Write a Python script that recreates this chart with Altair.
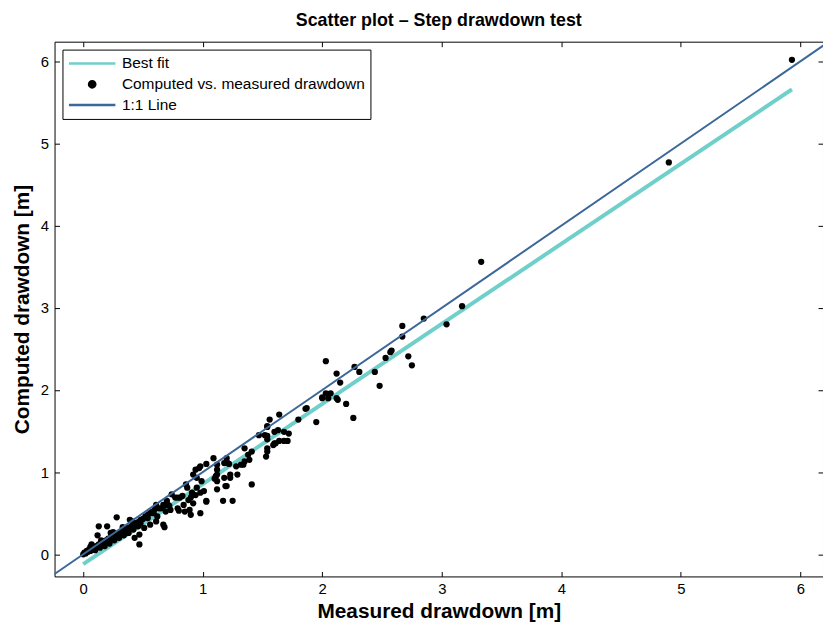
import altair as alt
import pandas as pd

# Measured vs computed drawdown [m]
measured = [
    0.00, 0.01, 0.02, 0.03, 0.04, 0.05, 0.06, 0.07, 0.08, 0.09, 0.10, 0.11, 0.12, 0.13, 0.14,
    0.15, 0.16, 0.17, 0.18, 0.19, 0.20, 0.21, 0.22, 0.23, 0.24, 0.25, 0.26, 0.27, 0.28, 0.29,
    0.30, 0.31, 0.32, 0.33, 0.34, 0.35, 0.36, 0.37, 0.38, 0.40, 0.42, 0.44, 0.46, 0.48, 0.50,
    0.52, 0.54, 0.56, 0.58, 0.60,
    0.06, 0.10, 0.14, 0.18, 0.22, 0.26, 0.30, 0.34, 0.38, 0.42, 0.46, 0.15, 0.25, 0.33, 0.41, 0.07,
    0.13, 0.20, 0.12, 0.28, 0.39, 0.47, 0.23, 0.34, 0.43, 0.48, 0.51, 0.47, 0.43,
    0.54, 0.59, 0.63, 0.67, 0.70, 0.74, 0.79, 0.83, 0.84, 0.88, 0.89, 0.79, 0.80, 0.73, 0.69,
    0.62, 0.67, 0.68, 0.61, 0.56, 0.91, 0.92, 0.94, 0.61, 0.68, 0.71, 0.85, 0.90, 0.98, 1.03,
    0.91, 0.94, 0.98, 0.95, 0.97, 0.98, 0.65, 0.72, 0.87, 0.86, 0.95, 0.92, 0.90, 0.77, 0.81,
    1.09, 1.12, 1.11, 1.12, 1.12, 1.17, 1.25, 1.20, 1.21, 1.23, 1.20, 1.29, 1.41, 1.01, 1.03,
    1.03, 1.12, 1.10, 1.35, 1.41, 1.39, 1.34, 1.28, 1.32, 1.35, 1.38, 1.47, 1.52, 1.54, 1.54,
    1.54, 1.54, 1.53, 1.56, 1.64, 1.60, 1.63, 1.68, 1.72, 1.61, 1.59, 1.64, 1.68, 1.71, 1.22,
    1.18, 1.23, 1.12, 0.99, 1.18, 1.19, 1.54, 1.54, 1.60,
    1.80, 1.86, 1.87, 1.95, 2.26, 2.00, 2.05, 2.12, 2.13, 2.20, 2.03, 2.07, 2.00, 2.15, 2.12,
    2.03, 2.27, 2.31, 2.44, 2.48, 2.53, 2.57, 2.58, 2.67, 2.67, 2.72, 2.75, 2.85, 3.04, 3.17,
    3.33, 4.90, 5.93,
]
computed = [
    0.00, 0.02, 0.01, 0.04, 0.03, 0.06, 0.04, 0.07, 0.06, 0.09, 0.08, 0.10, 0.10, 0.12, 0.11,
    0.14, 0.13, 0.15, 0.14, 0.17, 0.16, 0.19, 0.18, 0.20, 0.19, 0.22, 0.21, 0.24, 0.23, 0.25,
    0.24, 0.27, 0.26, 0.29, 0.27, 0.30, 0.29, 0.32, 0.31, 0.34, 0.35, 0.38, 0.39, 0.42, 0.43,
    0.46, 0.48, 0.50, 0.52, 0.55,
    0.09, 0.05, 0.08, 0.10, 0.13, 0.17, 0.20, 0.23, 0.26, 0.30, 0.34, 0.17, 0.27, 0.33, 0.40, 0.12,
    0.34, 0.34, 0.23, 0.45, 0.42, 0.12, 0.26, 0.28, 0.34, 0.38, 0.32, 0.24, 0.20,
    0.44, 0.50, 0.56, 0.60, 0.65, 0.73, 0.69, 0.71, 0.60, 0.66, 0.54, 0.56, 0.53, 0.54, 0.52,
    0.46, 0.36, 0.33, 0.40, 0.36, 0.72, 0.97, 1.03, 0.60, 0.59, 0.60, 0.52, 0.48, 0.50, 0.64,
    0.75, 0.72, 0.75, 0.93, 1.05, 1.07, 0.56, 0.59, 0.81, 0.85, 0.81, 0.62, 0.69, 0.69, 0.69,
    1.17, 1.09, 0.95, 0.89, 0.79, 0.65, 0.65, 1.17, 1.11, 0.93, 0.83, 0.97, 0.85, 0.77, 0.65,
    1.10, 1.03, 0.92, 1.29, 1.25, 1.15, 1.09, 1.07, 1.09, 1.13, 1.21, 1.45, 1.45, 1.55, 1.40,
    1.29, 1.25, 1.19, 1.64, 1.70, 1.49, 1.51, 1.49, 1.47, 1.35, 1.33, 1.38, 1.38, 1.38, 1.10,
    1.11, 0.97, 0.97, 0.89, 0.93, 0.83, 1.56, 1.44, 1.35,
    1.64, 1.77, 1.78, 1.61, 1.66, 1.90, 1.90, 1.90, 1.88, 1.83, 1.96, 1.96, 1.91, 2.09, 2.20,
    2.35, 2.28, 2.22, 2.22, 2.05, 2.39, 2.46, 2.48, 2.65, 2.78, 2.41, 2.30, 2.87, 2.80, 3.02,
    3.56, 4.77, 6.02,
]

fit_x = [0.00, 5.93]
fit_y = [-0.12, 5.66]
one_x = [-0.3, 6.3]
one_y = [-0.3, 6.3]

series = ["Best fit", "Computed vs. measured drawdown", "1:1 Line"]
series_colors = ["#6fcfcb", "#000000", "#3b6899"]
series_shapes = ["stroke", "circle", "stroke"]
series_sizes = [2200, 40, 2200]
ticks = [0, 1, 2, 3, 4, 5, 6]
x_dom = [-0.24, 6.19]
y_dom = [-0.27, 6.24]

FONT = "Liberation Sans"
INWARD = alt.ExprRef(expr="-5")

pts = pd.DataFrame({"x": measured, "y": computed, "s": series[1]})
fit = pd.DataFrame({"x": fit_x, "y": fit_y, "s": series[0]})
one = pd.DataFrame({"x": one_x, "y": one_y, "s": series[2]})

xs = alt.Scale(domain=x_dom, nice=False, zero=False)
ys = alt.Scale(domain=y_dom, nice=False, zero=False)

color = alt.Color(
    "s:N",
    scale=alt.Scale(domain=series, range=series_colors),
    legend=alt.Legend(
        title=None, orient="none", legendX=8, legendY=8,
        strokeColor="black", fillColor="white", padding=5, cornerRadius=0,
        labelFont=FONT, labelFontSize=15.6, labelColor="black",
        labelOffset=5, labelLimit=0,
        symbolStrokeWidth=2.5, symbolFillColor="black", clipHeight=18, rowPadding=3,
    ),
)


def ticks_only(orient):
    return alt.Axis(orient=orient, tickSize=INWARD, labels=False, domain=False,
                    title=None, grid=False, values=ticks, tickColor="black", tickWidth=1)


fit_layer = alt.Chart(fit).mark_line(strokeWidth=4, clip=True).encode(
    x=alt.X("x:Q", scale=xs, axis=ticks_only("top")),
    y=alt.Y("y:Q", scale=ys, axis=ticks_only("right")),
    color=color,
)

pt_layer = alt.Chart(pts).mark_point(filled=True, opacity=1, strokeWidth=1, clip=True).encode(
    x=alt.X("x:Q", scale=xs, axis=alt.Axis(
        orient="bottom", title="Measured drawdown [m]", values=ticks, tickSize=INWARD,
        tickColor="black", tickWidth=1, domain=False,
        grid=False, labelPadding=10, titlePadding=4, labelFont=FONT, labelFontSize=15,
        labelColor="black", titleFont=FONT, titleFontSize=21, titleFontWeight="bold",
        titleColor="black")),
    y=alt.Y("y:Q", scale=ys, axis=alt.Axis(
        orient="left", title="Computed drawdown [m]", values=ticks, tickSize=INWARD,
        tickColor="black", tickWidth=1, domain=False,
        grid=False, labelPadding=11, titlePadding=8, labelFont=FONT, labelFontSize=15,
        labelColor="black", titleFont=FONT, titleFontSize=21, titleFontWeight="bold",
        titleColor="black")),
    color=color,
    shape=alt.Shape("s:N", scale=alt.Scale(domain=series, range=series_shapes), legend=None),
    size=alt.Size("s:N", scale=alt.Scale(type="ordinal", domain=series, range=series_sizes), legend=None),
)

one_layer = alt.Chart(one).mark_line(strokeWidth=2, clip=True).encode(
    x=alt.X("x:Q", scale=xs, axis=None),
    y=alt.Y("y:Q", scale=ys, axis=None),
    color=color,
)

chart = alt.layer(fit_layer, pt_layer, one_layer).resolve_axis(
    x="independent", y="independent"
).properties(
    width=776, height=540,
    background="white",
    title=alt.TitleParams("Scatter plot – Step drawdown test", font=FONT, fontSize=18,
                          fontWeight="bold", color="black", anchor="middle", offset=11),
    autosize=alt.AutoSizeParams(type="none"),
    padding={"left": 47, "top": 31, "right": 0, "bottom": 44},
).configure_view(stroke="black", strokeWidth=1)

chart.save("out.html", embed_options={"renderer": "svg", "actions": False})
